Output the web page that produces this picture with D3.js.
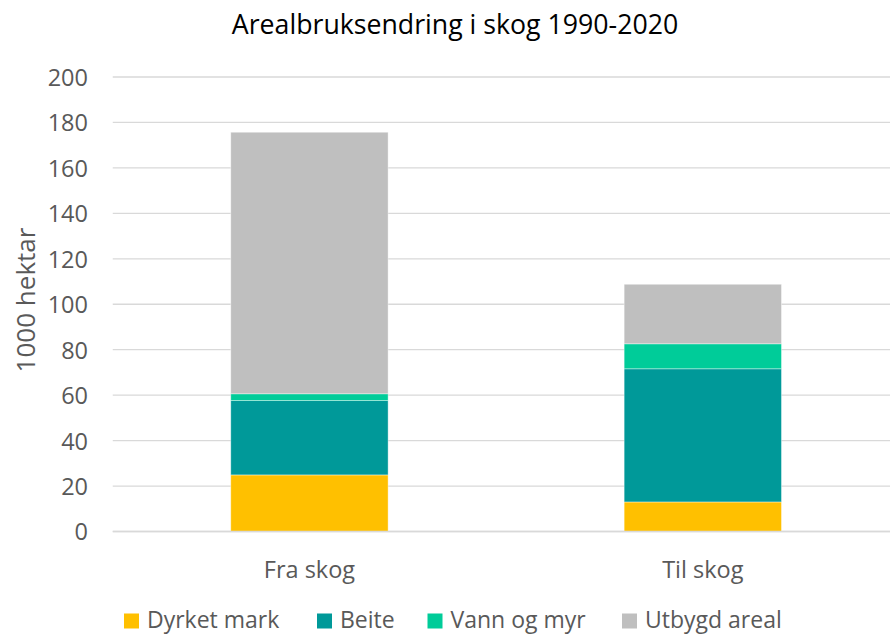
<!DOCTYPE html>
<html><head><meta charset="utf-8">
<script src="https://cdn.jsdelivr.net/npm/d3@7"></script>
<style>body{margin:0;background:#fff}svg{display:block;font-family:"Open Sans",sans-serif}</style>
</head><body>
<script>
const categories = ["Fra skog", "Til skog"];
const seriesNames = ["Dyrket mark", "Beite", "Vann og myr", "Utbygd areal"];
const dyrketMark = [24.9, 13.0];
const beite = [32.7, 58.6];
const vannOgMyr = [3.0, 11.0];
const utbygdAreal = [115.1, 26.2];
const yTicks = [0, 20, 40, 60, 80, 100, 120, 140, 160, 180, 200];
const colors = ["#FFC000", "#009999", "#00CC99", "#BFBFBF"];

const W = 890, H = 634;
const svg = d3.select("body").append("svg").attr("width", W).attr("height", H);
const plotL = 112.75, plotR = 899.5, plotT = 77, plotB = 531.5;

const x = d3.scaleBand().domain(categories).range([plotL, plotR]).paddingInner(0.6).paddingOuter(0.3);
const y = d3.scaleLinear().domain([0, 200]).range([plotB, plotT]);

// gridlines
svg.append("g").selectAll("line").data(yTicks).join("line")
  .attr("x1", plotL).attr("x2", plotR)
  .attr("y1", d => y(d)).attr("y2", d => y(d))
  .attr("stroke", "#d9d9d9").attr("stroke-width", 1.3);

// y axis labels
const yAxis = d3.axisLeft(y).tickValues(yTicks).tickSize(0).tickPadding(0);
const ga = svg.append("g").attr("transform", `translate(88,0)`).call(yAxis);
ga.select(".domain").remove();
ga.selectAll("text").attr("font-size", 23.5).attr("fill", "#595959")
  .attr("font-family", "'Open Sans',sans-serif").attr("dy", "0.36em");

// stacked data
const rows = categories.map((c, i) => ({
  cat: c,
  "Dyrket mark": dyrketMark[i], "Beite": beite[i],
  "Vann og myr": vannOgMyr[i], "Utbygd areal": utbygdAreal[i]
}));
const stack = d3.stack().keys(seriesNames)(rows);
svg.append("g").selectAll("g").data(stack).join("g")
  .attr("fill", (d, i) => colors[i])
  .selectAll("rect").data(d => d).join("rect")
  .attr("x", d => x(d.data.cat)).attr("width", x.bandwidth())
  .attr("y", d => y(d[1])).attr("height", d => y(d[0]) - y(d[1]))
  .attr("stroke", "#ffffff").attr("stroke-opacity", 0.5).attr("stroke-width", 0.8);

// x axis baseline
svg.append("line").attr("x1", plotL).attr("x2", plotR).attr("y1", y(0)).attr("y2", y(0))
  .attr("stroke", "#d9d9d9").attr("stroke-width", 1.3);

// x axis labels
const xAxis = d3.axisBottom(x).tickSize(0).tickPadding(0);
const gx = svg.append("g").attr("transform", `translate(0,${plotB})`).call(xAxis);
gx.select(".domain").remove();
gx.selectAll("text").attr("font-size", 23.5).attr("fill", "#595959")
  .attr("font-family", "'Open Sans',sans-serif").attr("dy", null).attr("y", 46.5);

// title
svg.append("text").attr("x", 455).attr("y", 34).attr("text-anchor", "middle")
  .attr("font-size", 26.7).attr("fill", "#000").text("Arealbruksendring i skog 1990-2020");

// y axis title
svg.append("text").attr("transform", "translate(35,300) rotate(-90)")
  .attr("text-anchor", "middle").attr("font-size", 26).attr("fill", "#595959").text("1000 hektar");

// legend
const legendX = [124, 317, 427.5, 622];
const lg = svg.append("g").selectAll("g").data(seriesNames).join("g")
  .attr("transform", (d, i) => `translate(${legendX[i]},613.5)`);
lg.append("rect").attr("width", 15).attr("height", 15).attr("fill", (d, i) => colors[i]);
lg.append("text").attr("x", 23).attr("y", 14).attr("font-size", 23).attr("fill", "#595959").text(d => d);
</script>
</body></html>
